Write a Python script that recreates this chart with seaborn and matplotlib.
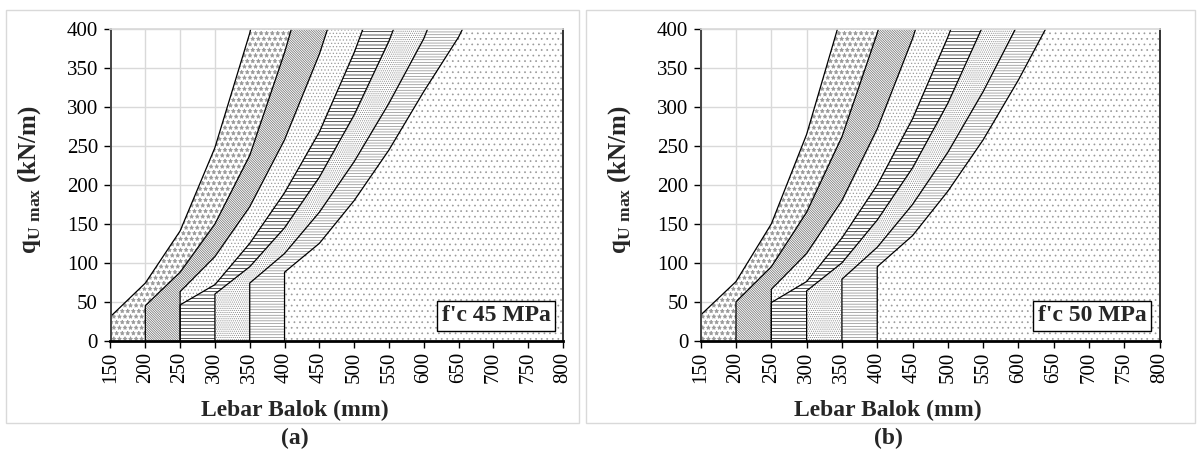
import numpy as np
import pandas as pd
import matplotlib
matplotlib.use("Agg")
import matplotlib.pyplot as plt
from matplotlib.patches import Rectangle
import seaborn as sns

# beam widths (mm) at which each boundary curve is given
B1_X = [150, 200, 250, 300, 350, 400]
B2_X = [200, 250, 300, 350, 400, 450]
B3_X = [250, 300, 350, 400, 450, 500]
B4_X = [250, 300, 350, 400, 450, 500, 550]
B5_X = [300, 350, 400, 450, 500, 550, 600]
B6_X = [350, 400, 450, 500, 550, 600, 650]
B7_X = [400, 450, 500, 550, 600, 650, 700]

# q_U max (kN/m) along each boundary, f'c 45 MPa
A_B1 = [31, 74, 141, 248, 395, 590]
A_B2 = [45, 88, 150, 238, 370, 525]
A_B3 = [63, 108, 172, 258, 368, 505]
A_B4 = [46, 72, 125, 190, 268, 370, 490]
A_B5 = [60, 95, 145, 210, 290, 385, 500]
A_B6 = [74, 112, 165, 230, 305, 388, 500]
A_B7 = [88, 125, 180, 245, 320, 390, 480]

# f'c 50 MPa
B_B1 = [33, 76, 150, 265, 420, 630]
B_B2 = [50, 95, 165, 262, 395, 560]
B_B3 = [66, 112, 180, 272, 388, 530]
B_B4 = [49, 76, 132, 200, 285, 390, 510]
B_B5 = [64, 100, 155, 222, 305, 405, 520]
B_B6 = [79, 120, 175, 242, 320, 408, 520]
B_B7 = [95, 135, 192, 258, 335, 420, 520]

X_TICKS = list(range(150, 801, 50))
Y_TICKS = list(range(0, 401, 50))

HATCHES = ["***", "\\" * 14, ".....", "-----", "........", "------", "..."]
HATCH_COLORS = ["#9a9a9a", "#6a6a6a", "#9a9a9a", "#111111", "#8a8a8a", "#8a8a8a", "#9a9a9a"]

sns.set_theme(style="white")
plt.rcParams["font.family"] = ["Liberation Serif", "DejaVu Serif"]
plt.rcParams["mathtext.fontset"] = "custom"
plt.rcParams["mathtext.rm"] = "Liberation Serif"
plt.rcParams["mathtext.bf"] = "Liberation Serif:bold"
plt.rcParams["hatch.linewidth"] = 0.5


def draw_panel(ax, curves, label):
    xs_all = [B1_X, B2_X, B3_X, B4_X, B5_X, B6_X, B7_X]
    edges = []
    for xs, qs in zip(xs_all, curves):
        edges.append(([xs[0]] + xs, [0] + qs))
    edges.append(([800, 800], [0, 700]))

    for i in range(len(edges) - 1):
        lx, lq = edges[i]
        rx, rq = edges[i + 1]
        ax.fill(lx + rx[::-1], lq + rq[::-1], facecolor="white",
                edgecolor=HATCH_COLORS[i], hatch=HATCHES[i], lw=0, zorder=2)

    frames = []
    for k, (x, q) in enumerate(edges[:-1]):
        frames.append(pd.DataFrame({"b": x, "q": q, "curve": k}))
    df = pd.concat(frames, ignore_index=True)
    sns.lineplot(data=df, x="b", y="q", units="curve", estimator=None,
                 sort=False, color="black", lw=0.9, ax=ax, zorder=3)

    ax.set_xlim(150, 800)
    ax.set_ylim(0, 400)
    ax.set_xticks(X_TICKS)
    ax.set_yticks(Y_TICKS)
    ax.set_xticklabels([str(v) for v in X_TICKS], rotation=90)
    ax.grid(True, color="#d9d9d9", lw=1)
    ax.set_axisbelow(True)
    ax.set_xlabel("")
    ax.set_ylabel("")
    ax.tick_params(bottom=True, left=True, direction="out", length=5,
                   width=1, colors="black", labelsize=15, pad=3)
    ax.tick_params(axis="y", pad=4)
    ax.spines["top"].set_color("#d9d9d9")
    ax.spines["left"].set_color("#444444")
    ax.spines["left"].set_linewidth(1.4)
    ax.spines["right"].set_color("#333333")
    ax.spines["right"].set_linewidth(1.4)
    ax.spines["bottom"].set_color("black")
    ax.spines["bottom"].set_linewidth(2)
    for sp in ax.spines.values():
        sp.set_zorder(4)

    ax.text(704, 32, label, ha="center", va="center", fontsize=17,
            fontweight="bold", zorder=5,
            bbox=dict(boxstyle="square,pad=0.18", fc="white", ec="black", lw=1))


fig = plt.figure(figsize=(12, 4.57), dpi=100)
H = 457.0
W = 1200.0
ax_a = fig.add_axes([110.5 / W, 1 - 340.7 / H, 452.5 / W, 311.4 / H])
ax_b = fig.add_axes([700.7 / W, 1 - 340.7 / H, 459.0 / W, 311.4 / H])

draw_panel(ax_a, [A_B1, A_B2, A_B3, A_B4, A_B5, A_B6, A_B7], "f'c 45 MPa")
draw_panel(ax_b, [B_B1, B_B2, B_B3, B_B4, B_B5, B_B6, B_B7], "f'c 50 MPa")

for x0, x1, xc, tag, ylx in [(6, 579, 295, "(a)", 30), (586, 1195, 888, "(b)", 620)]:
    fig.add_artist(Rectangle((x0 / W, 1 - 423 / H), (x1 - x0) / W, 413.5 / H,
                             transform=fig.transFigure, fill=False,
                             ec="#d9d9d9", lw=1))
    fig.text(xc / W, 1 - 410 / H, "Lebar Balok (mm)", ha="center", va="center",
             fontsize=17, fontweight="bold")
    fig.text(xc / W, 1 - 438 / H, tag, ha="center", va="center",
             fontsize=17, fontweight="bold")
    fig.text(ylx / W, 1 - 180 / H, r"$\mathbf{q}_{\mathbf{U\ max}}$ (kN/m)",
             ha="center", va="center", rotation=90, fontsize=18,
             fontweight="bold")

fig.savefig("out.png", dpi=100)
